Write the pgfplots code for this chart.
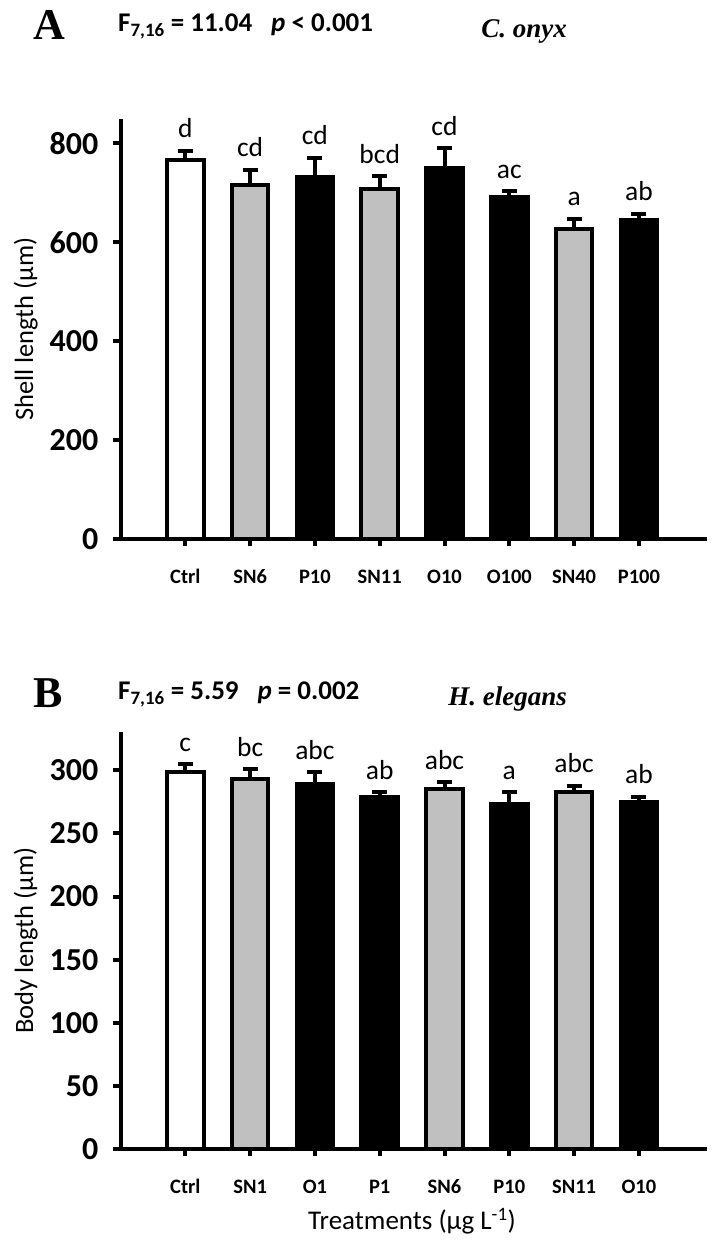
\documentclass[border=0pt]{standalone}
\usepackage{fontspec}
\setmainfont{Carlito}
\newfontfamily\timesfont{Liberation Serif}
\usepackage{pgfplots}
\pgfplotsset{compat=1.18}
\definecolor{bargray}{RGB}{192,192,192}

\pgfplotsset{
  mybars/.style={
    scale only axis, width=583.2pt,
    xmin=-1, xmax=8,
    axis x line*=bottom, axis y line*=left,
    axis line style={line width=4pt, black},
    x axis line style={shorten <=-5pt, shorten >=-3pt},
    tick align=outside, major tick length=7pt,
    tick style={line width=4pt, black},
    xtick={0,...,7},
    /pgf/number format/assume math mode=true,
    yticklabel style={font=\fontsize{32}{32}\selectfont\bfseries, inner sep=0pt, xshift=-15pt},
    xticklabel style={font=\fontsize{20.5}{20.5}\selectfont\bfseries, inner sep=0pt, anchor=base, yshift=-37.5pt},
    every axis y label/.style={at={(axis description cs:-0.150,0.5)}, rotate=90, anchor=base, font=\fontsize{26.5}{26.5}\selectfont},
    clip=false,
    bar width=36.5pt,
  },
  barplot/.style={ybar, bar shift=0pt, draw=black, line width=4pt,
    error bars/y dir=plus, error bars/y explicit,
    error bars/error bar style={line width=4pt, black},
    error bars/error mark options={rotate=90, mark size=7.5pt, line width=4pt, black}},
  letters/.style={draw=none, mark=none, nodes near coords, point meta=explicit symbolic,
    every node near coord/.append style={anchor=south, inner sep=0pt, yshift=12.5pt, font=\fontsize{27.5}{27.5}\selectfont, black}},
}

\begin{document}
\begin{tikzpicture}
\useasboundingbox (0pt,0pt) rectangle (714pt,1255pt);

% ---------- Panel A ----------
\begin{axis}[mybars, at={(120.5pt,715.5pt)}, anchor=south west,
  height=420.8pt, ymin=0, ymax=850, ytick={0,200,400,600,800},
  xticklabels={Ctrl,SN6,P10,SN11,O10,O100,SN40,P100},
  ylabel={Shell length (µm)}]
\addplot[barplot, fill=white] coordinates {(0,767) +- (0,18)};
\addplot[barplot, fill=bargray] coordinates {(1,717) +- (0,30) (3,707) +- (0,27) (6,628) +- (0,20)};
\addplot[barplot, fill=black] coordinates {(2,732) +- (0,39) (4,751) +- (0,39) (5,692) +- (0,11) (7,645) +- (0,13)};
\addplot[letters] coordinates {(0,785)[d] (1,747)[cd] (2,771)[cd] (3,734)[bcd] (4,790)[cd] (5,703)[ac] (6,648)[a] (7,658)[ab]};
\end{axis}

% ---------- Panel B ----------
\begin{axis}[mybars, at={(120.5pt,106pt)}, anchor=south west,
  height=416.5pt, ymin=0, ymax=330, ytick={0,50,100,150,200,250,300},
  xticklabels={Ctrl,SN1,O1,P1,SN6,P10,SN11,O10},
  ylabel={Body length (µm)}]
\addplot[barplot, fill=white] coordinates {(0,299) +- (0,6)};
\addplot[barplot, fill=bargray] coordinates {(1,293) +- (0,8) (4,285) +- (0,5.5) (6,283) +- (0,5)};
\addplot[barplot, fill=black] coordinates {(2,289) +- (0,9.5) (3,279) +- (0,3.5) (5,273) +- (0,9.5) (7,275) +- (0,4)};
\addplot[letters] coordinates {(0,305)[c] (1,301)[bc] (2,298.5)[abc] (3,282.5)[ab] (4,290.5)[abc] (5,282.5)[a] (6,288)[abc] (7,279)[ab]};
\end{axis}

% ---------- Titles ----------
\node[anchor=base west, inner sep=0pt, font=\fontsize{44}{44}\timesfont\bfseries] at (33pt,1215pt) {A};
\node[anchor=base west, inner sep=0pt, font=\fontsize{27}{27}\selectfont\bfseries] at (118pt,1223pt) {F\textsubscript{7,16} = 11.04\hspace{0.7em}\textit{p} < 0.001};
\node[anchor=base east, inner sep=0pt, font=\fontsize{27}{27}\timesfont\bfseries\itshape] at (567pt,1217pt) {C. onyx};

\node[anchor=base west, inner sep=0pt, font=\fontsize{44}{44}\timesfont\bfseries] at (33pt,547pt) {B};
\node[anchor=base west, inner sep=0pt, font=\fontsize{27}{27}\selectfont\bfseries] at (118pt,555pt) {F\textsubscript{7,16} = 5.59\hspace{0.7em}\textit{p} = 0.002};
\node[anchor=base east, inner sep=0pt, font=\fontsize{27}{27}\timesfont\bfseries\itshape] at (567pt,549pt) {H. elegans};

\node[anchor=base, inner sep=0pt, font=\fontsize{27}{27}\selectfont] at (412pt,25pt) {Treatments (µg L\textsuperscript{-1})};
\end{tikzpicture}
\end{document}
